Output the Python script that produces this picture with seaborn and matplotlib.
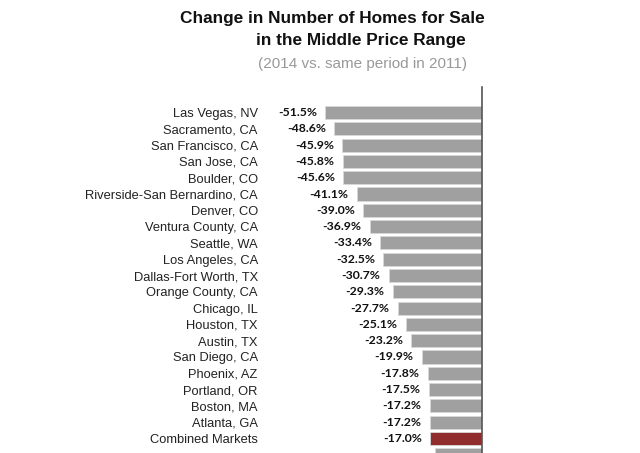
import matplotlib
matplotlib.use("Agg")
import matplotlib.pyplot as plt
import seaborn as sns

cities = ["Las Vegas, NV", "Sacramento, CA", "San Francisco, CA", "San Jose, CA",
          "Boulder, CO", "Riverside-San Bernardino, CA", "Denver, CO",
          "Ventura County, CA", "Seattle, WA", "Los Angeles, CA",
          "Dallas-Fort Worth, TX", "Orange County, CA", "Chicago, IL",
          "Houston, TX", "Austin, TX", "San Diego, CA", "Phoenix, AZ",
          "Portland, OR", "Boston, MA", "Atlanta, GA", "Combined Markets",
          "Baltimore, MD"]
changes = [-51.5, -48.6, -45.9, -45.8, -45.6, -41.1, -39.0, -36.9, -33.4, -32.5,
           -30.7, -29.3, -27.7, -25.1, -23.2, -19.9, -17.8, -17.5, -17.2, -17.2,
           -17.0, -15.6]
highlight = "Combined Markets"

sns.set_style("white")
plt.rcParams["font.family"] = ["Liberation Sans", "DejaVu Sans"]

fig = plt.figure(figsize=(6.4, 4.53), dpi=100)
ax = fig.add_axes([262 / 640, 0, 220 / 640, 1 - 87 / 453])

colors = {c: ("#a01c1c" if c == highlight else "#a0a0a0") for c in cities}
sns.barplot(x=changes, y=cities, hue=cities, palette=colors, legend=False,
            width=0.8, orient="h", edgecolor="#d8d8d8", linewidth=0.6, ax=ax)

for i, v in enumerate(changes):
    ax.annotate(f"{v:.1f}%", xy=(v, i), xytext=(-6, 0), textcoords="offset points",
                ha="right", va="center", fontsize=8.8, fontweight="bold",
                color="#111111", family=["Lato", "DejaVu Sans"])

ax.set_xlim(-220 / 3.04, 0)
ax.set_ylim((453 - 112.5) / 16.3, -(112.5 - 87) / 16.3)
ax.set_xticks([])
ax.set_xlabel("")
ax.set_ylabel("")
ax.tick_params(axis="y", length=0, pad=3, labelsize=9.3, labelcolor="#222222")
for side in ["left", "top", "bottom"]:
    ax.spines[side].set_visible(False)
ax.spines["right"].set_color("#555555")
ax.spines["right"].set_linewidth(1.2)

fig.text(332 / 640, 1 - 18 / 453, "Change in Number of Homes for Sale",
         ha="center", va="center", fontsize=12.4, fontweight="bold", color="#111111")
fig.text(361 / 640, 1 - 40 / 453, "in the Middle Price Range",
         ha="center", va="center", fontsize=12.4, fontweight="bold", color="#111111")
fig.text(362 / 640, 1 - 64 / 453, "(2014 vs. same period in 2011)",
         ha="center", va="center", fontsize=11, color="#999999")

fig.savefig("out.png", dpi=100)
